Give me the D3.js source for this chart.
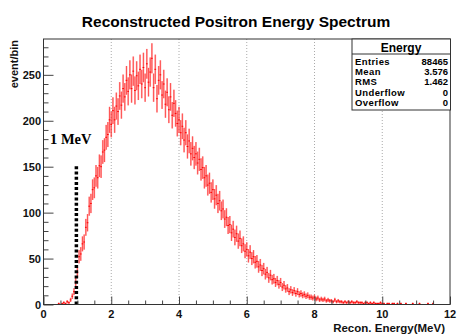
<!DOCTYPE html>
<html><head><meta charset="utf-8">
<script src="https://cdn.jsdelivr.net/npm/d3@7/dist/d3.min.js"></script>
<style>body{margin:0;background:#fff}svg{display:block}</style>
</head><body>
<svg id="c" width="457" height="336"></svg>
<script>
const title = "Reconstructed Positron Energy Spectrum";
const xLabel = "Recon. Energy(MeV)";
const yLabel = "event/bin";
const xTicks = [0, 2, 4, 6, 8, 10, 12];
const yTicks = [0, 50, 100, 150, 200, 250];
const binLow = 0.40;
const binWidth = 0.05;
const counts = [
 0, 1, 0, 1, 2, 1, 3, 2, 5, 9,
 14, 24, 35, 52, 55, 66, 68, 84, 89, 107,
 110, 125, 127, 140, 138, 151, 150, 166, 168, 182,
 185, 201, 196, 211, 201, 216, 210, 227, 217, 235,
 226, 244, 232, 250, 235, 254, 233, 249, 238, 256,
 240, 258, 236, 262, 242, 253, 268, 236, 256, 224,
 244, 250, 228, 240, 218, 231, 212, 226, 206, 219,
 208, 197, 201, 187, 194, 179, 187, 172, 178, 164,
 170, 160, 164, 154, 158, 147, 149, 138, 140, 130,
 132, 122, 125, 115, 119, 110, 113, 102, 104, 93,
 95, 86, 87, 78, 82, 73, 77, 69, 72, 64,
 66, 58, 60, 53, 57, 50, 52, 46, 47, 41,
 43, 37, 39, 33, 35, 29, 32, 27, 28, 24,
 26, 22, 24, 19, 21, 17, 18, 14, 16, 13,
 15, 12, 14, 11, 12, 10, 11, 9, 10, 8,
 8, 7, 8, 6, 7, 5, 6, 5, 6, 4,
 5, 4, 4, 3, 5, 3, 4, 3, 3, 2,
 3, 2, 3, 2, 3, 2, 2, 3, 2, 2,
 2, 1, 2, 2, 1, 2, 1, 2, 1, 1,
 1, 2, 1, 1, 0, 1, 1, 0, 1, 1,
 0, 1, 0, 1, 0, 0, 1, 0, 0, 0,
 1, 0, 0, 0, 1, 0, 0, 0, 0, 1,
 0, 0, 1, 0, 0, 0, 0, 0, 0, 0
];
const statsTitle = "Energy";
const statsNames = ["Entries", "Mean", "RMS", "Underflow", "Overflow"];
const statsValues = ["88465", "3.576", "1.462", "0", "0"];
const markerEnergy = [1.0];
const markerTop = [152];
const markerLabel = "1 MeV";

const svg = d3.select("#c");
const L = 43.5, R = 450, T = 39, B = 304.5;
const x = d3.scaleLinear().domain([0, 12]).range([L, R]);
const y = d3.scaleLinear().domain([0, 289]).range([B, T]);
const font = "'Liberation Sans', Arial, Helvetica, sans-serif";

// grid
svg.append("g").selectAll("line").data(xTicks.filter(d => d > 0 && d < 12)).join("line")
  .attr("x1", d => x(d)).attr("x2", d => x(d)).attr("y1", T).attr("y2", B)
  .attr("stroke", "#aaa").attr("stroke-width", 1).attr("stroke-dasharray", "1,2");

// histogram
const bins = counts.map((v, i) => ({c: binLow + i * binWidth, v})).filter(d => d.v > 0);
const hg = svg.append("g");
hg.selectAll("rect.e").data(bins).join("rect").attr("class", "e")
  .attr("x", d => x(d.c - binWidth / 2)).attr("width", x(binWidth) - x(0))
  .attr("y", d => y(d.v + Math.sqrt(d.v)))
  .attr("height", d => y(Math.max(0, d.v - Math.sqrt(d.v))) - y(d.v + Math.sqrt(d.v)))
  .attr("fill", "#ff4d4d").attr("fill-opacity", 0.55);
hg.selectAll("line.e").data(bins).join("line").attr("class", "e")
  .attr("x1", d => x(d.c)).attr("x2", d => x(d.c))
  .attr("y1", d => y(Math.max(0, d.v - Math.sqrt(d.v)))).attr("y2", d => y(d.v + Math.sqrt(d.v)))
  .attr("stroke", "#ff0000").attr("stroke-opacity", 0.6).attr("stroke-width", 0.8);
hg.selectAll("line.h").data(bins).join("line").attr("class", "h")
  .attr("x1", d => x(d.c - binWidth / 2)).attr("x2", d => x(d.c + binWidth / 2))
  .attr("y1", d => y(d.v)).attr("y2", d => y(d.v))
  .attr("stroke", "#ff0000").attr("stroke-width", 1);

// marker dotted line
svg.append("g").selectAll("line").data(markerEnergy).join("line")
  .attr("x1", d => x(d) - 1).attr("x2", d => x(d) - 1)
  .attr("y1", y(0)).attr("y2", (d, i) => y(markerTop[i]))
  .attr("stroke", "#000").attr("stroke-width", 3.5).attr("stroke-dasharray", "3,2.2");
svg.append("text").attr("x", 50).attr("y", 144).text(markerLabel)
  .attr("font-family", "'Liberation Serif', 'Times New Roman', serif").attr("font-weight", "bold")
  .attr("font-size", 14.5).attr("fill", "#000");

// axes
const xAxis = d3.axisBottom(x).tickValues(d3.range(0, 12.01, 0.5)).tickSizeInner(-4).tickSizeOuter(0).tickFormat("");
const gx = svg.append("g").attr("transform", `translate(0,${B})`).call(xAxis);
gx.selectAll(".tick line").filter(d => Math.abs(d % 2) < 1e-6).attr("y2", -8);
gx.selectAll(".tick line").attr("stroke", "#444");
gx.select(".domain").remove();
const yAxis = d3.axisLeft(y).tickValues(d3.range(0, 281, 10)).tickSizeInner(-5).tickSizeOuter(0).tickFormat("");
const gy = svg.append("g").attr("transform", `translate(${L},0)`).call(yAxis);
gy.selectAll(".tick line").filter(d => d % 50 === 0).attr("x2", 10);
gy.selectAll(".tick line").attr("stroke", "#444");
gy.select(".domain").remove();

svg.append("rect").attr("x", L).attr("y", T).attr("width", R - L).attr("height", B - T)
  .attr("fill", "none").attr("stroke", "#333").attr("stroke-width", 1);

// tick labels
svg.append("g").selectAll("text").data(xTicks).join("text")
  .attr("x", d => x(d)).attr("y", 318).attr("text-anchor", "middle").text(d => d)
  .attr("font-family", font).attr("font-weight", "bold").attr("font-size", 11).attr("fill", "#111");
svg.append("g").selectAll("text").data(yTicks).join("text")
  .attr("x", 41).attr("y", d => y(d) + 4).attr("text-anchor", "end").text(d => d)
  .attr("font-family", font).attr("font-weight", "bold").attr("font-size", 11).attr("fill", "#111");

// titles
svg.append("text").attr("x", 236).attr("y", 27).attr("text-anchor", "middle").text(title)
  .attr("font-family", font).attr("font-weight", "bold").attr("font-size", 15.5).attr("fill", "#000");
svg.append("text").attr("x", 445).attr("y", 332).attr("text-anchor", "end").text(xLabel)
  .attr("font-family", font).attr("font-weight", "bold").attr("font-size", 11.5).attr("fill", "#111");
svg.append("text").attr("transform", "translate(18,40) rotate(-90)").attr("text-anchor", "end").text(yLabel)
  .attr("font-family", font).attr("font-weight", "bold").attr("font-size", 11).attr("fill", "#111");

// stats box
const sb = svg.append("g");
sb.append("rect").attr("x", 352).attr("y", T).attr("width", 98.5).attr("height", 71)
  .attr("fill", "#fff").attr("stroke", "#333").attr("stroke-width", 1);
sb.append("line").attr("x1", 352).attr("x2", 450.5).attr("y1", 54).attr("y2", 54).attr("stroke", "#333");
sb.append("text").attr("x", 401).attr("y", 51.5).attr("text-anchor", "middle").text(statsTitle)
  .attr("font-family", font).attr("font-weight", "bold").attr("font-size", 12).attr("fill", "#000");
sb.selectAll("text.n").data(statsNames).join("text").attr("class", "n")
  .attr("x", 355).attr("y", (d, i) => 64.5 + i * 10.4).text(d => d)
  .attr("font-family", font).attr("font-weight", "bold").attr("font-size", 9.5)
  .attr("letter-spacing", 0.4).attr("fill", "#000");
sb.selectAll("text.v").data(statsValues).join("text").attr("class", "v")
  .attr("x", 448).attr("y", (d, i) => 64.5 + i * 10.4).attr("text-anchor", "end").text(d => d)
  .attr("font-family", font).attr("font-weight", "bold").attr("font-size", 9.5).attr("fill", "#000");
</script>
</body></html>
